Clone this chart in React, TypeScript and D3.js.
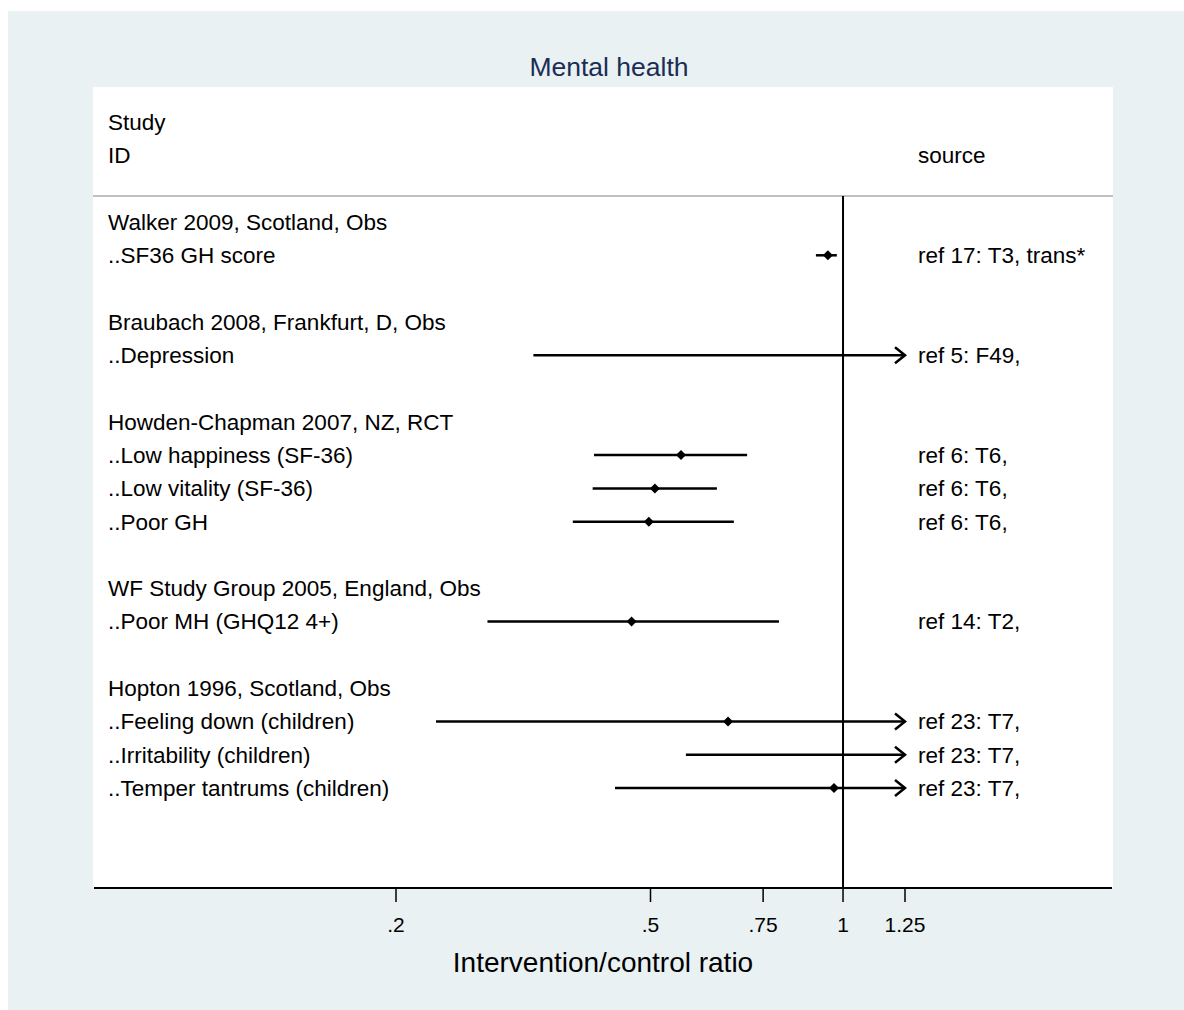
import React from "react";
import * as d3 from "d3";

const rowLabels = [
  "Walker 2009, Scotland, Obs",
  "..SF36 GH score",
  "",
  "Braubach 2008, Frankfurt, D, Obs",
  "..Depression",
  "",
  "Howden-Chapman 2007, NZ, RCT",
  "..Low happiness (SF-36)",
  "..Low vitality (SF-36)",
  "..Poor GH",
  "",
  "WF Study Group 2005, England, Obs",
  "..Poor MH (GHQ12 4+)",
  "",
  "Hopton 1996, Scotland, Obs",
  "..Feeling down (children)",
  "..Irritability (children)",
  "..Temper tantrums (children)",
];
const sources = ["", "ref 17: T3, trans*", "", "", "ref 5: F49,", "", "", "ref 6: T6,", "ref 6: T6,", "ref 6: T6,", "", "", "ref 14: T2,", "", "", "ref 23: T7,", "ref 23: T7,", "ref 23: T7,"];
const estimates: (number | null)[] = [null, 0.947, null, null, 1.6, null, null, 0.558, 0.508, 0.497, null, null, 0.467, null, null, 0.661, 1.4, 0.968];
const lowers: (number | null)[] = [null, 0.907, null, null, 0.328, null, null, 0.408, 0.406, 0.378, null, null, 0.278, null, null, 0.231, 0.568, 0.44];
const uppers: (number | null)[] = [null, 0.978, null, null, 7.5, null, null, 0.708, 0.635, 0.675, null, null, 0.794, null, null, 1.9, 3.4, 2.1];
const tickValues = [0.2, 0.5, 0.75, 1, 1.25];
const tickLabels = [".2", ".5", ".75", "1", "1.25"];
const xMin = 0.2;
const xMax = 1.25;

const FONT = "'Liberation Sans', Arial, sans-serif";
const LABEL_SIZE = 22.5;

export default function App() {
  const x = d3.scaleLog().domain([0.2, 1.25]).range([396, 905]);
  const panel = { x0: 93, x1: 1113, y0: 87, y1: 888 };
  const firstRowY = 222;
  const step = 33.3;
  const rowY = (i: number) => firstRowY + i * step;
  const textX = 108;
  const srcX = 918;

  return (
    <svg
      width={1184}
      height={1010}
      style={{ position: "absolute", left: 0, top: 0 }}
      fontFamily={FONT}
    >
      <rect x={0} y={0} width={1184} height={1010} fill="#ffffff" />
      <rect x={8} y={11} width={1176} height={999} fill="#e9f1f3" />
      <rect x={panel.x0} y={panel.y0} width={panel.x1 - panel.x0} height={panel.y1 - panel.y0} fill="#ffffff" />
      <text x={609} y={67} dy="0.35em" textAnchor="middle" fontSize={26.5} fill="#1c2d55">
        Mental health
      </text>
      <text x={textX} y={rowY(0) - 3 * step} dy="0.35em" fontSize={LABEL_SIZE} fill="#000">Study</text>
      <text x={textX} y={rowY(0) - 2 * step} dy="0.35em" fontSize={LABEL_SIZE} fill="#000">ID</text>
      <text x={srcX} y={rowY(0) - 2 * step} dy="0.35em" fontSize={LABEL_SIZE} fill="#000">source</text>
      <line x1={panel.x0} x2={panel.x1} y1={196} y2={196} stroke="#c0c0c0" strokeWidth={2} />
      <line x1={x(1)} x2={x(1)} y1={196} y2={panel.y1} stroke="#000" strokeWidth={2} />
      {rowLabels.map((lab, i) =>
        lab ? (
          <text key={"l" + i} x={textX} y={rowY(i)} dy="0.35em" fontSize={LABEL_SIZE} fill="#000">
            {lab}
          </text>
        ) : null
      )}
      {sources.map((s, i) =>
        s ? (
          <text key={"s" + i} x={srcX} y={rowY(i)} dy="0.35em" fontSize={LABEL_SIZE} fill="#000">
            {s}
          </text>
        ) : null
      )}
      {rowLabels.map((_, i) => {
        const lo = lowers[i];
        const hi = uppers[i];
        const est = estimates[i];
        if (lo == null || hi == null) return null;
        const y = rowY(i);
        const arrowR = hi > xMax;
        const arrowL = lo < xMin;
        const xa = x(Math.max(lo, xMin));
        const xb = x(Math.min(hi, xMax));
        const showPt = est != null && est >= xMin && est <= xMax;
        return (
          <g key={"m" + i}>
            <line x1={xa} x2={xb} y1={y} y2={y} stroke="#000" strokeWidth={2.5} />
            {arrowR && (
              <path d={`M${xb - 10},${y - 8} L${xb},${y} L${xb - 10},${y + 8}`} fill="none" stroke="#000" strokeWidth={2.5} />
            )}
            {arrowL && (
              <path d={`M${xa + 10},${y - 8} L${xa},${y} L${xa + 10},${y + 8}`} fill="none" stroke="#000" strokeWidth={2.5} />
            )}
            {showPt && (
              <path
                d={`M${x(est as number)},${y - 5} L${x(est as number) + 5},${y} L${x(est as number)},${y + 5} L${x(est as number) - 5},${y} Z`}
                fill="#000"
              />
            )}
          </g>
        );
      })}
      <line x1={panel.x0 + 1} x2={panel.x1 - 1} y1={panel.y1} y2={panel.y1} stroke="#000" strokeWidth={2} />
      {tickValues.map((t, i) => (
        <g key={"t" + i}>
          <line x1={x(t)} x2={x(t)} y1={panel.y1} y2={panel.y1 + 14} stroke="#000" strokeWidth={1.5} />
          <text x={x(t)} y={925} dy="0.35em" textAnchor="middle" fontSize={21} fill="#000">
            {tickLabels[i]}
          </text>
        </g>
      ))}
      <text x={(panel.x0 + panel.x1) / 2} y={962} dy="0.35em" textAnchor="middle" fontSize={28} fill="#000">
        Intervention/control ratio
      </text>
    </svg>
  );
}
